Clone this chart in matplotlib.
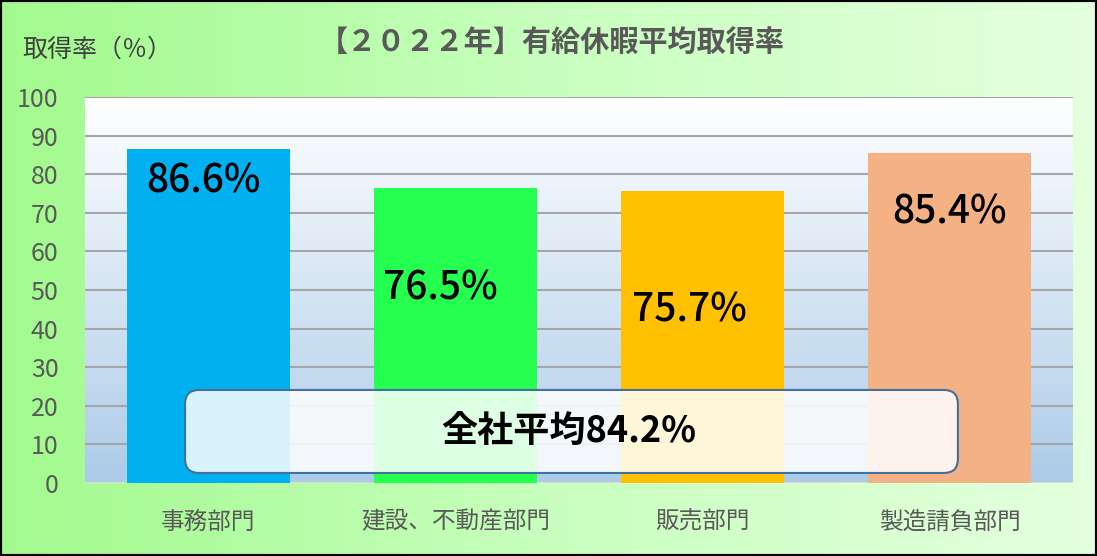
import numpy as np
import matplotlib
matplotlib.use("Agg")
import matplotlib.pyplot as plt
from matplotlib.colors import LinearSegmentedColormap
from matplotlib.patches import FancyBboxPatch, Rectangle

plt.rcParams['font.family'] = ['Noto Sans CJK JP', 'DejaVu Sans']

# data
departments = ['事務部門', '建設、不動産部門', '販売部門', '製造請負部門']
rates = [86.6, 76.5, 75.7, 85.4]
company_avg = 84.2
bar_colors = ['#00B0F0', '#25FF50', '#FFC000', '#F4B183']
yticks = [0, 10, 20, 30, 40, 50, 60, 70, 80, 90, 100]

# where the value labels sit (layout, not data)
label_y = [78.0, 50.5, 44.6, 70.2]
label_dx = [-0.02, -0.06, -0.055, 0.0]

W, H = 1097, 556
fig = plt.figure(figsize=(W / 100, H / 100), dpi=100)

# figure background: horizontal green gradient
bg = fig.add_axes([0, 0, 1, 1], zorder=-10)
bg_cmap = LinearSegmentedColormap.from_list('bg', ['#A2FA8E', '#C8FFBE', '#E4FFDE'])
bg.imshow(np.linspace(0, 1, 256).reshape(1, -1), cmap=bg_cmap, aspect='auto',
          extent=[0, 1, 0, 1])
bg.set_xlim(0, 1)
bg.set_ylim(0, 1)
bg.axis('off')
bg.add_patch(Rectangle((0, 0), 1, 1, fill=False, edgecolor='black', lw=3,
                       transform=bg.transAxes))

ax = fig.add_axes([85 / W, 1 - 483 / H, (1073 - 85) / W, (483 - 97) / H])
x = np.arange(len(departments))
ax.set_xlim(-0.5, len(departments) - 0.5)
ax.set_ylim(0, 100)

# plot area: white -> light blue vertical gradient
pa_cmap = LinearSegmentedColormap.from_list('pa', ['#ACCBE8', '#FFFFFF'])
ax.imshow(np.linspace(0, 1, 256).reshape(-1, 1), cmap=pa_cmap, aspect='auto',
          extent=[-0.5, len(departments) - 0.5, 0, 100], origin='lower', zorder=0)

for t in yticks[1:]:
    ax.axhline(t, color='#A6A6A6', lw=1.5, zorder=1)
ax.axhline(0, color='#D9D9D9', lw=1.5, zorder=1)

ax.bar(x, rates, width=0.66, color=bar_colors, zorder=2)

for i, v in enumerate(rates):
    ax.text(i + label_dx[i], label_y[i], f'{v:.1f}%', ha='center', va='center',
            fontsize=28, fontweight='medium', color='black', zorder=5)

for s in ax.spines.values():
    s.set_visible(False)
ax.set_yticks(yticks)
ax.set_yticklabels([str(t) for t in yticks], fontsize=18, color='#595959')
ax.set_xticks(x)
ax.set_xticklabels(departments, fontsize=17, color='#595959')
ax.tick_params(axis='y', length=0, pad=19)
ax.tick_params(axis='x', length=0, pad=20)

# average box with rounded corners
fig.canvas.draw()
bb = ax.get_window_extent()
px_x = bb.width / 4.0
px_y = bb.height / 100.0
x0, x1 = -0.095, 3.034
y0, y1 = 2.6, 24.1
box = FancyBboxPatch((x0, y0), x1 - x0, y1 - y0,
                     boxstyle='round,pad=0,rounding_size=%f' % (14 / px_x),
                     mutation_aspect=px_x / px_y,
                     facecolor='white', alpha=0.85, edgecolor='none', zorder=3)
ax.add_patch(box)
ax.add_patch(FancyBboxPatch((x0, y0), x1 - x0, y1 - y0,
                            boxstyle='round,pad=0,rounding_size=%f' % (14 / px_x),
                            mutation_aspect=px_x / px_y,
                            facecolor='none', edgecolor='#41719C', lw=1.5, zorder=4))
ax.text((x0 + x1) / 2 - 0.01, (y0 + y1) / 2, f'全社平均{company_avg:.1f}%', ha='center',
        va='center', fontsize=26, fontweight='bold', color='black', zorder=5)

fig.text(552 / W, 1 - 42 / H, '【２０２２年】有給休暇平均取得率', ha='center',
         va='center', fontsize=21, fontweight='bold', color='#595959')
fig.text(22 / W, 1 - 50 / H, '取得率（％）', ha='left', va='center',
         fontsize=18, color='#404040')

fig.savefig('out.png', dpi=100)
